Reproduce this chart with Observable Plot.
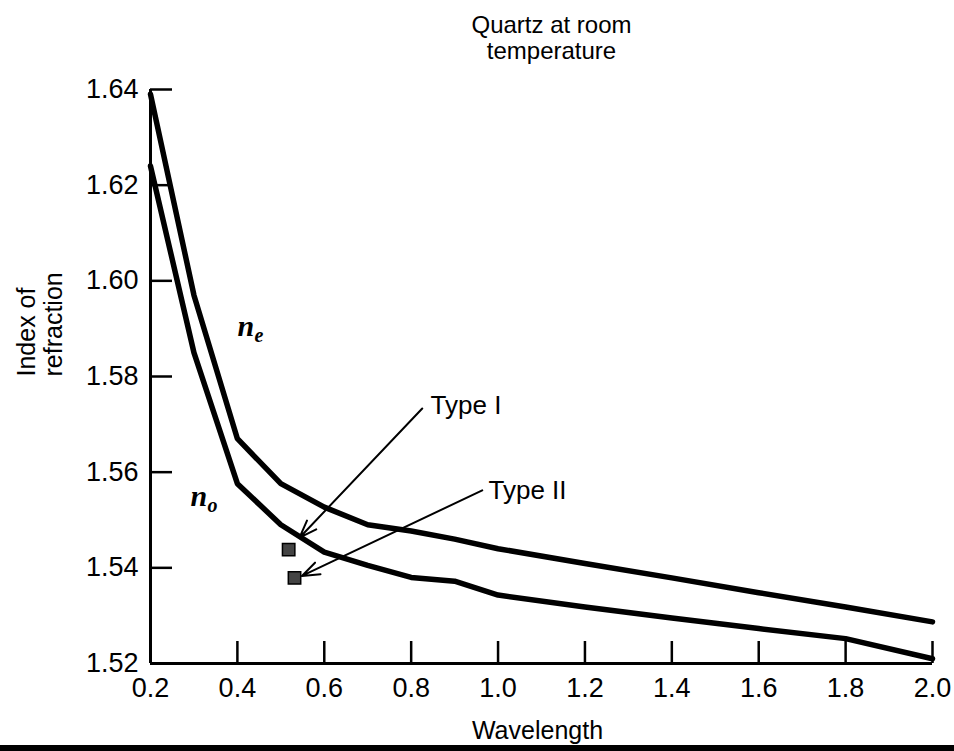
<!DOCTYPE html>
<html>
<head>
<meta charset="utf-8">
<script src="https://cdn.jsdelivr.net/npm/d3@7"></script>
<script src="https://cdn.jsdelivr.net/npm/@observablehq/plot@0.6"></script>
<style>
  html, body { margin: 0; padding: 0; background: #fff; }
  #wrap { position: relative; width: 954px; height: 751px; overflow: hidden; }
  #wrap svg { display: block; }
  #bar { width: 954px; height: 6px; background: #000; }
</style>
</head>
<body>
<div id="wrap"></div>
<script>
// ---- data ----
const wavelength = [0.2, 0.3, 0.4, 0.5, 0.6, 0.7, 0.8, 0.9, 1.0, 1.2, 1.4, 1.6, 1.8, 2.0];
const nE = [1.639, 1.597, 1.567, 1.5576, 1.5527, 1.549, 1.5477, 1.546, 1.544, 1.5409, 1.5379, 1.5348, 1.5318, 1.5287];
const nO = [1.624, 1.585, 1.5576, 1.549, 1.5433, 1.5405, 1.538, 1.5372, 1.5343, 1.5318, 1.5295, 1.5273, 1.5252, 1.521];

const xTicks = [0.2, 0.4, 0.6, 0.8, 1.0, 1.2, 1.4, 1.6, 1.8, 2.0];
const yTicks = [1.52, 1.54, 1.56, 1.58, 1.60, 1.62, 1.64];

const curveNames = ["n", "n"];
const curveSubs = ["e", "o"];
const curveLabelX = [0.40, 0.292];
const curveLabelY = [1.5905, 1.5549];

const typeLabels = ["Type I", "Type II"];
const typeLabelX = [0.8446, 0.978];
const typeLabelY = [1.5739, 1.5562];
const arrowX1 = [0.8255, 0.9636];
const arrowY1 = [1.5733, 1.5562];
const arrowX2 = [0.543, 0.5485];
const arrowY2 = [1.5463, 1.5383];
const pointX = [0.518, 0.5315];
const pointY = [1.5438, 1.5379];

const titleText = "Quartz at room\ntemperature";
const xLabel = "Wavelength";
const yLabel = "Index of\nrefraction";

// ---- tables built from arrays ----
const rows = (ys, name) => wavelength.map((w, i) => ({w, n: ys[i], name}));
const lines = [...rows(nE, "ne"), ...rows(nO, "no")];
const curveLab = curveNames.map((n, i) => ({n, sub: curveSubs[i], x: curveLabelX[i], y: curveLabelY[i]}));
const types = typeLabels.map((t, i) => ({
  t, lx: typeLabelX[i], ly: typeLabelY[i],
  x1: arrowX1[i], y1: arrowY1[i], x2: arrowX2[i], y2: arrowY2[i],
  px: pointX[i], py: pointY[i]
}));

const sans = "'Liberation Sans', Arial, 'DejaVu Sans', sans-serif";
const serif = "'Liberation Serif', 'DejaVu Serif', serif";

const chart = Plot.plot({
  width: 954,
  height: 745,
  marginLeft: 150,
  marginRight: 22,
  marginTop: 89,
  marginBottom: 82,
  style: {fontFamily: sans, color: "#000", background: "#fff", overflow: "visible"},
  x: {domain: [0.2, 2.0]},
  y: {domain: [1.52, 1.64]},
  marks: [
    Plot.axisX({ticks: xTicks, tickFormat: ".1f", tickSize: -22, tickPadding: 36, fontSize: 27, strokeWidth: 2.5, label: null}),
    Plot.axisY({ticks: yTicks, tickFormat: ".2f", tickSize: -22, tickPadding: 34, fontSize: 27, strokeWidth: 2.5, label: null}),
    Plot.ruleY([1.52], {stroke: "#000", strokeWidth: 3}),
    Plot.ruleX([0.2], {stroke: "#000", strokeWidth: 3}),
    Plot.line(lines, {x: "w", y: "n", z: "name", stroke: "#000", strokeWidth: 5.5, strokeLinejoin: "round", strokeLinecap: "round"}),
    Plot.arrow(types, {x1: "x1", y1: "y1", x2: "x2", y2: "y2", stroke: "#000", strokeWidth: 2, headLength: 14, headAngle: 40}),
    Plot.dot(types, {x: "px", y: "py", symbol: "square", r: 7, fill: "#444", stroke: "#000", strokeWidth: 1.5}),
    Plot.text(types, {x: "lx", y: "ly", text: "t", textAnchor: "start", lineAnchor: "middle", fontSize: 26, fill: "#000"}),
    Plot.text(curveLab, {x: "x", y: "y", text: "n", textAnchor: "start", lineAnchor: "middle", fontSize: 30, fontStyle: "italic", fontWeight: "bold", fontFamily: serif, fill: "#000"}),
    Plot.text(curveLab, {x: "x", y: "y", text: "sub", textAnchor: "start", lineAnchor: "middle", dx: 17, dy: 9, fontSize: 20, fontStyle: "italic", fontWeight: "bold", fontFamily: serif, fill: "#000"}),
    Plot.text([titleText], {frameAnchor: "top", dx: 10, dy: -76, lineAnchor: "top", lineHeight: 1.12, fontSize: 24, fill: "#000"}),
    Plot.text([xLabel], {frameAnchor: "bottom", dx: -4, dy: 67, lineAnchor: "middle", fontSize: 25, fill: "#000"}),
    Plot.text([yLabel], {frameAnchor: "left", rotate: -90, dx: -111, lineAnchor: "middle", lineHeight: 1.1, fontSize: 25, fill: "#000"})
  ]
});

const wrap = document.getElementById("wrap");
wrap.appendChild(chart);
const bar = document.createElement("div");
bar.id = "bar";
wrap.appendChild(bar);
</script>
</body>
</html>
